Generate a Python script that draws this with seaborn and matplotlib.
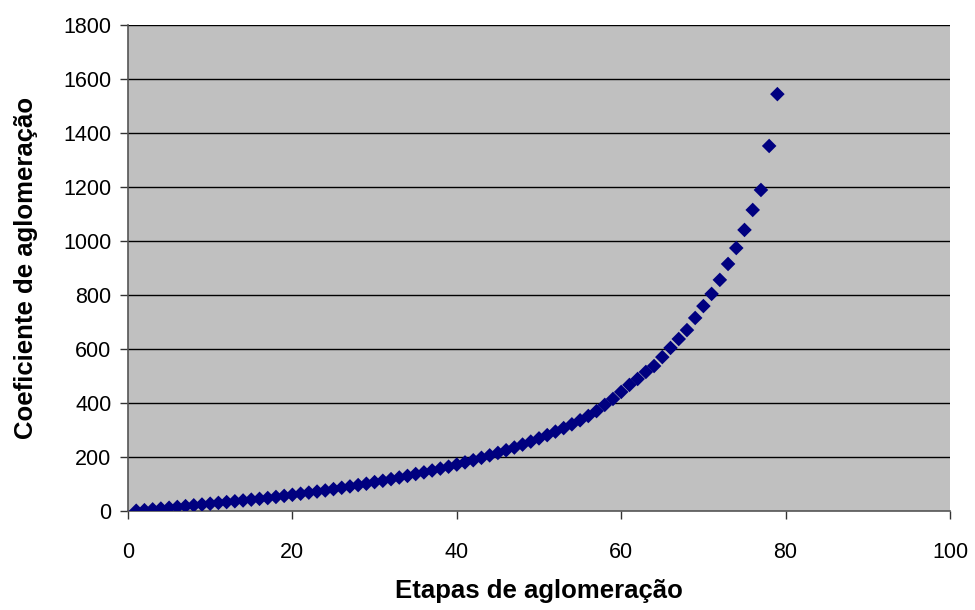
import matplotlib
matplotlib.use("Agg")
import matplotlib.pyplot as plt
import seaborn as sns
import pandas as pd

etapas = list(range(1, 80))
coeficiente = [
    1, 3, 6, 9, 12, 15, 18, 21, 24, 27,
    30, 33, 36, 39, 42, 45, 48, 52, 56, 60,
    64, 68, 72, 76, 81, 86, 91, 96, 101, 107,
    112, 118, 124, 130, 137, 143, 150, 157, 164, 172,
    180, 188, 197, 206, 215, 225, 235, 246, 257, 269,
    281, 294, 307, 321, 336, 352, 370, 393, 415, 441,
    467, 489, 515, 537, 570, 604, 637, 670, 715, 759,
    804, 856, 915, 974, 1041, 1115, 1189, 1352, 1544,
]
x_ticks = [0, 20, 40, 60, 80, 100]
y_ticks = [0, 200, 400, 600, 800, 1000, 1200, 1400, 1600, 1800]

df = pd.DataFrame({"etapa": etapas, "coef": coeficiente})

sns.set_theme(style="white")
plt.rcParams['font.family'] = ['Liberation Sans', 'DejaVu Sans']

fig = plt.figure(figsize=(9.75, 6.1), dpi=100)
ax = fig.add_axes([128/975, 1 - 511/610, (950-128)/975, (511-25)/610])
ax.set_facecolor('#C0C0C0')

for yv in y_ticks[1:]:
    ax.axhline(yv, color='black', linewidth=1.0, zorder=1)

sns.scatterplot(data=df, x="etapa", y="coef", marker='D', color='#000080',
                s=55, edgecolor='none', linewidth=0, ax=ax, zorder=3, legend=False)

ax.set_xlim(0, 100)
ax.set_ylim(0, 1800)
ax.set_xticks(x_ticks)
ax.set_yticks(y_ticks)
ax.tick_params(axis='both', direction='out', length=6, width=1, colors='#333333',
               labelsize=15.5, labelcolor='black', left=True, bottom=True)
ax.tick_params(axis='x', pad=16)
ax.tick_params(axis='y', pad=6)
for side in ['top', 'right']:
    ax.spines[side].set_visible(False)
for side in ['left', 'bottom']:
    ax.spines[side].set_color('#555555')
    ax.spines[side].set_linewidth(1.2)

ax.set_xlabel('Etapas de aglomeração', fontsize=18.5, fontweight='bold',
              labelpad=12, color='black')
ax.set_ylabel('Coeficiente de aglomeração', fontsize=18.5, fontweight='bold',
              labelpad=18, color='black')

fig.savefig('out.png', dpi=100)
